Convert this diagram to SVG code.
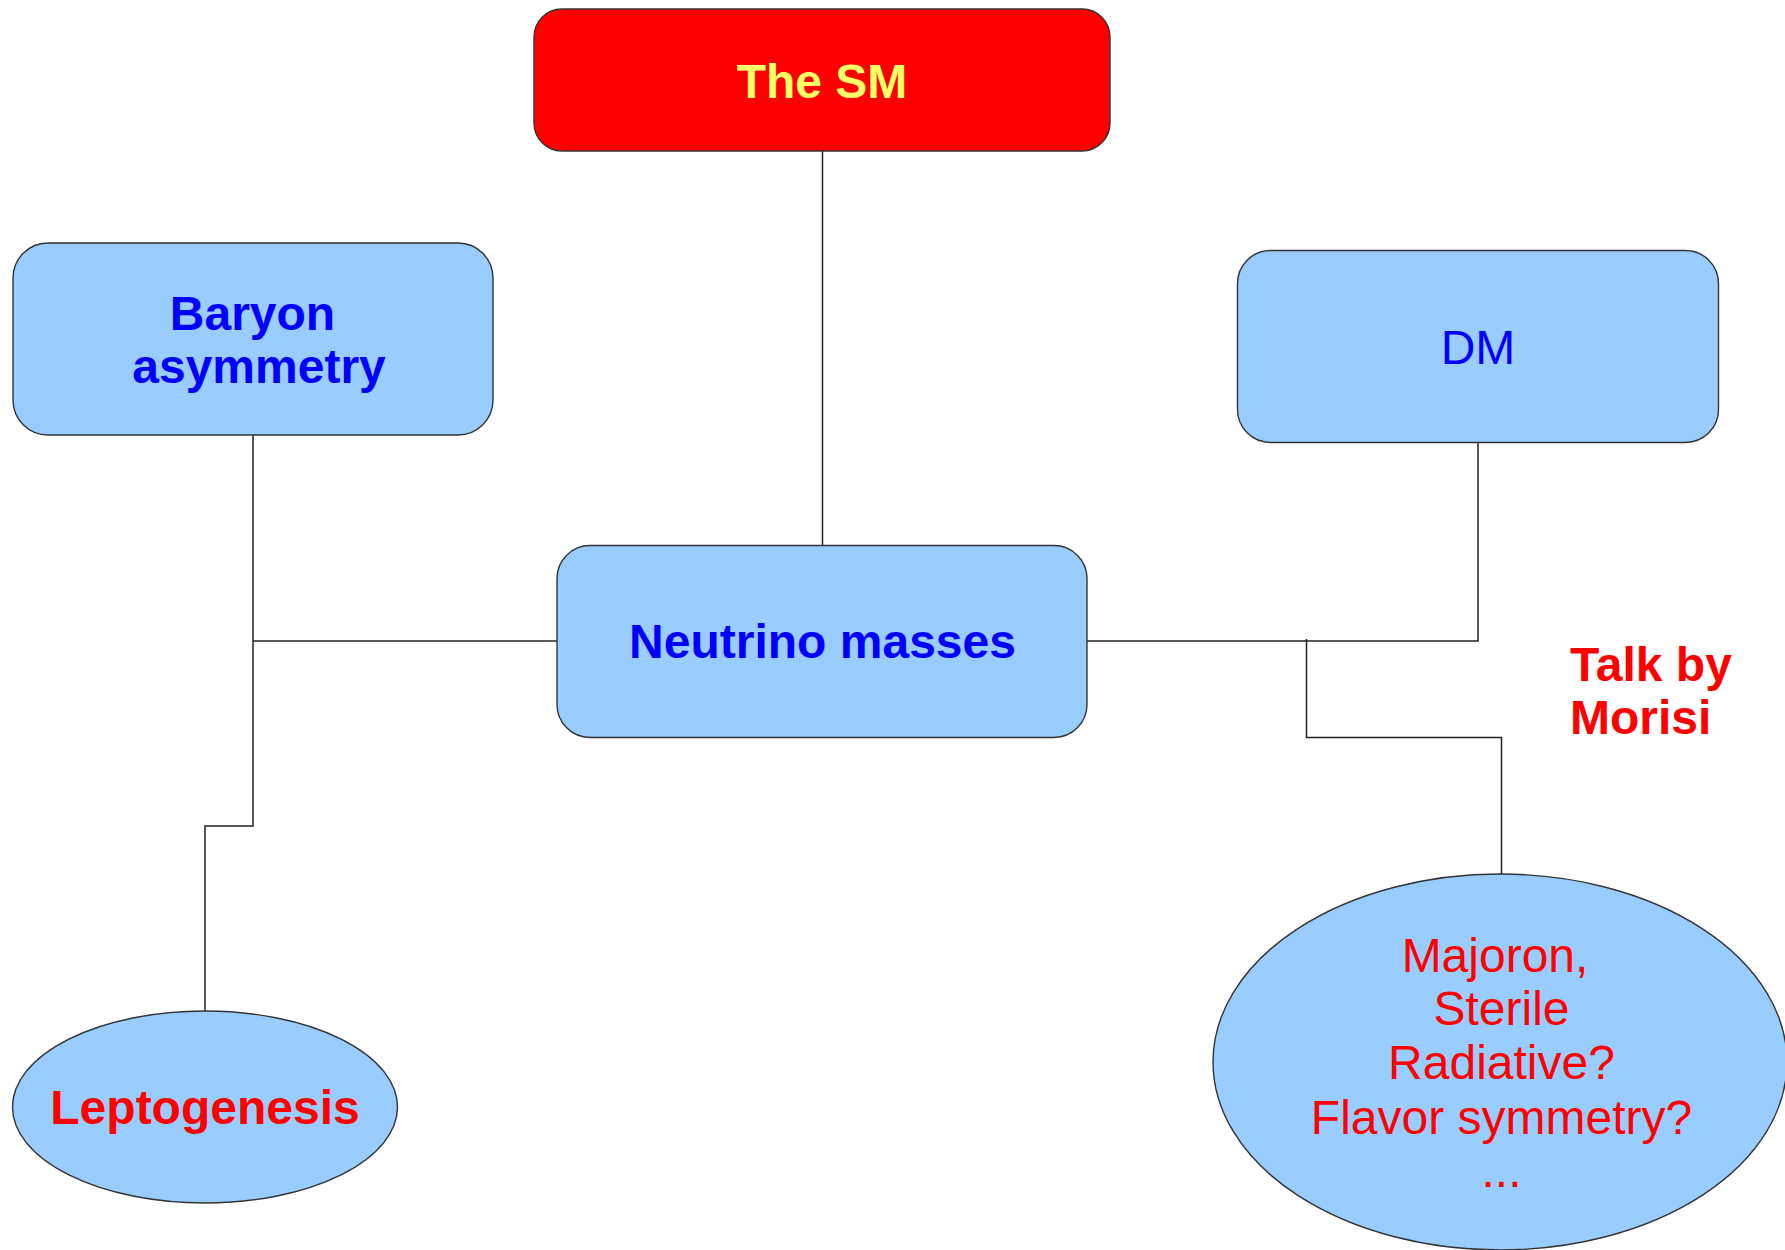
<svg xmlns="http://www.w3.org/2000/svg" width="1785" height="1250" viewBox="0 0 1785 1250">
<style>
.box{fill:#99ccff;stroke:#333;stroke-width:1.4}
.red{fill:#ff0000;stroke:#333;stroke-width:1.4}
.conn{fill:none;stroke:#222;stroke-width:1.5}
text{font-family:"Liberation Sans",Arial,sans-serif;font-size:48px;text-anchor:middle}
.b{font-weight:bold}
.blue{fill:#0000ff}
.rt{fill:#ff0000}
.yl{fill:#ffff66}
</style>
<rect width="1785" height="1250" fill="#ffffff"/>
<g id="connectors">
<path class="conn" d="M822.5,151 V545"/>
<path class="conn" d="M253,435 V826 H205 V1011"/>
<path class="conn" d="M557,641 H253"/>
<path class="conn" d="M1087,641 H1478 V442"/>
<path class="conn" d="M1306.5,639 V737.5 H1501.5 V874"/>
</g>
<g id="sm">
<rect class="red" x="534" y="9" width="576" height="142" rx="28" ry="28"/>
<text class="b yl" x="822" y="98">The SM</text>
</g>
<g id="baryon">
<rect class="box" x="13" y="243" width="480" height="192" rx="35" ry="35"/>
<text class="b blue" x="252.5" y="330">Baryon</text>
<text class="b blue" x="259" y="383">asymmetry</text>
</g>
<g id="dm">
<rect class="box" x="1237.5" y="250.5" width="481" height="192" rx="33" ry="33"/>
<text class="blue" x="1478" y="364">DM</text>
</g>
<g id="neutrino">
<rect class="box" x="557" y="545.5" width="530" height="192" rx="33" ry="33"/>
<text class="b blue" x="822.5" y="657.5">Neutrino masses</text>
</g>
<g id="leptogenesis">
<ellipse class="box" cx="205" cy="1107" rx="192.5" ry="96"/>
<text class="b rt" x="205" y="1124">Leptogenesis</text>
</g>
<g id="majoron">
<ellipse class="box" cx="1500" cy="1062" rx="287" ry="188"/>
<text class="rt" x="1495" y="971.5">Majoron,</text>
<text class="rt" x="1501.5" y="1025">Sterile</text>
<text class="rt" x="1501.5" y="1079">Radiative?</text>
<text class="rt" x="1501.5" y="1133.5">Flavor symmetry?</text>
<text class="rt" x="1501.5" y="1187">...</text>
</g>
<g id="talk">
<text class="b rt" x="1570" y="681" style="text-anchor:start">Talk by</text>
<text class="b rt" x="1570" y="734" style="text-anchor:start">Morisi</text>
</g>
</svg>
